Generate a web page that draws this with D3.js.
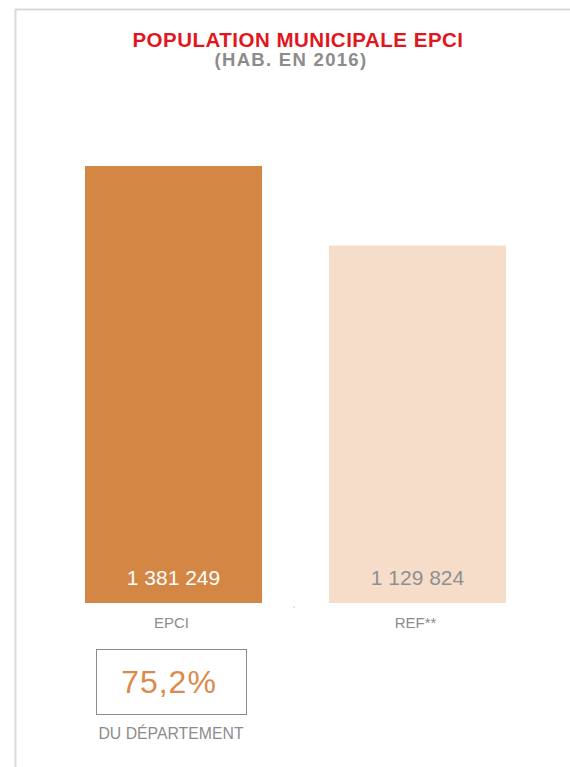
<!DOCTYPE html>
<html><head><meta charset="utf-8">
<script src="https://cdn.jsdelivr.net/npm/d3@7"></script>
<style>html,body{margin:0;padding:0;background:#fff;}svg{display:block;}</style>
</head><body>
<svg id="c" width="570" height="767"></svg>
<script>
const categories = ["EPCI", "REF**"];
const values = [1381249, 1129824];
const valueLabels = ["1 381 249", "1 129 824"];
const share = "75,2%";
const shareLabel = "DU DÉPARTEMENT";
const title = "POPULATION MUNICIPALE EPCI";
const subtitle = "(HAB. EN 2016)";

const svg = d3.select("#c");
const font = "'Liberation Sans', Arial, Helvetica, sans-serif";

// frame
svg.append("path").attr("d", "M15.5,767 V9.5 H570").attr("fill", "none")
  .attr("stroke", "#d9d9d9").attr("stroke-width", 2);

svg.append("text").attr("x", 298).attr("y", 47).attr("text-anchor", "middle")
  .attr("font-family", font).attr("font-weight", "bold").attr("font-size", 20.5)
  .attr("letter-spacing", 0.5).attr("fill", "#e2161e").text(title);
svg.append("text").attr("x", 291).attr("y", 66).attr("text-anchor", "middle")
  .attr("font-family", font).attr("font-weight", "bold").attr("font-size", 18.5)
  .attr("letter-spacing", 1.3).attr("fill", "#8c8c8c").text(subtitle);

const x = d3.scaleBand().domain(categories).range([85, 506]).paddingInner(0.2746).paddingOuter(0);
const y = d3.scaleLinear().domain([0, 1381249]).range([603, 166]);
const colors = ["#d48644", "#f5ddca"];
const labelColors = ["#ffffff", "#8f8f8f"];

svg.selectAll("rect.bar").data(values).join("rect").attr("class", "bar")
  .attr("x", (d, i) => x(categories[i])).attr("width", x.bandwidth())
  .attr("y", d => y(d)).attr("height", d => y(0) - y(d))
  .attr("fill", (d, i) => colors[i]);

svg.selectAll("text.val").data(values).join("text").attr("class", "val")
  .attr("x", (d, i) => x(categories[i]) + x.bandwidth() / 2).attr("y", y(0) - 18)
  .attr("text-anchor", "middle").attr("font-family", font).attr("font-size", 21)
  .attr("fill", (d, i) => labelColors[i]).text((d, i) => valueLabels[i]);

const xAxis = svg.append("g").attr("transform", `translate(-2,${y(0)})`)
  .call(d3.axisBottom(x).tickSize(0).tickPadding(14));
xAxis.select(".domain").remove();
xAxis.selectAll("text").attr("font-family", font).attr("font-size", 15)
  .attr("fill", "#8c8c8c");

// tiny stray mark between bars
svg.append("rect").attr("x", 293).attr("y", 606).attr("width", 2).attr("height", 2).attr("fill", "#dfe6ee");

// share box
svg.append("rect").attr("x", 96.5).attr("y", 649.5).attr("width", 150).attr("height", 65)
  .attr("fill", "none").attr("stroke", "#8a8a8a").attr("stroke-width", 1);
svg.append("text").attr("x", 169).attr("y", 693).attr("text-anchor", "middle")
  .attr("font-family", font).attr("font-size", 32).attr("letter-spacing", 1)
  .attr("fill", "#dc8a4c").text(share);
svg.append("text").attr("x", 171).attr("y", 739).attr("text-anchor", "middle")
  .attr("font-family", font).attr("font-size", 15.8)
  .attr("fill", "#8c8c8c").text(shareLabel);
</script>
</body></html>
